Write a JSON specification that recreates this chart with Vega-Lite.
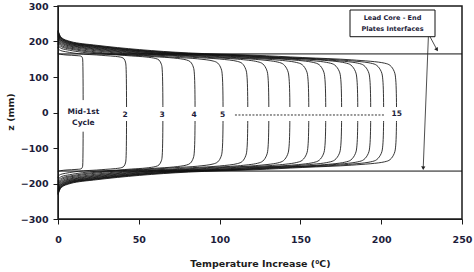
{
"$schema": "https://vega.github.io/schema/vega-lite/v6.json",
"width": 404, "height": 213,
"autosize": {"type": "none"},
"padding": {"left": 58, "top": 6, "right": 12, "bottom": 53},
"background": "white",
"config": {
 "view": {"stroke": "#1a1a1a", "strokeWidth": 1.5},
 "font": "DejaVu Sans",
 "axis": {"labelFont": "DejaVu Sans", "labelFontWeight": "bold", "labelFontSize": 9.5, "labelColor": "#1c1c3a",
  "titleFont": "DejaVu Sans", "titleFontWeight": "bold", "titleFontSize": 9.5, "titleColor": "#1c1c1c",
  "domainColor": "#1a1a1a", "tickColor": "#1a1a1a", "tickSize": 5, "grid": false, "labelOverlap": false, "labelFlush": false},
 "axisY": {"tickCount": 7}
},
"datasets": {"curves": [
{"c":1,"t":0,"z":168},{"c":1,"t":0.14,"z":166},{"c":1,"t":0.56,"z":164.9},{"c":1,"t":1.68,"z":163.9},{"c":1,"t":3.5,"z":162.7},{"c":1,"t":5.6,"z":161.8},{"c":1,"t":8.4,"z":161.2},{"c":1,"t":10.5,"z":160.5},{"c":1,"t":12.6,"z":159.9},{"c":1,"t":14,"z":159},{"c":1,"t":14.65,"z":157.5},{"c":1,"t":15.13,"z":153.5},{"c":1,"t":15.3,"z":148},
{"c":1,"t":15.3,"z":-148},{"c":1,"t":15.13,"z":-153.5},{"c":1,"t":14.65,"z":-157.5},{"c":1,"t":14,"z":-159},{"c":1,"t":12.6,"z":-159.9},{"c":1,"t":10.5,"z":-160.5},{"c":1,"t":8.4,"z":-161.2},{"c":1,"t":5.6,"z":-161.8},{"c":1,"t":3.5,"z":-162.7},{"c":1,"t":1.68,"z":-163.9},{"c":1,"t":0.56,"z":-164.9},{"c":1,"t":0.14,"z":-166},{"c":1,"t":0,"z":-168},
{"c":2,"t":0,"z":185},{"c":2,"t":0.4,"z":178.4},{"c":2,"t":1.58,"z":174.5},{"c":2,"t":4.74,"z":171.2},{"c":2,"t":9.88,"z":167.3},{"c":2,"t":15.8,"z":164.3},{"c":2,"t":23.7,"z":162.2},{"c":2,"t":29.6,"z":160.1},{"c":2,"t":35.6,"z":158},{"c":2,"t":39.5,"z":155},{"c":2,"t":40.8,"z":151.5},{"c":2,"t":41.75,"z":142},{"c":2,"t":42.1,"z":129},
{"c":2,"t":42.1,"z":-129},{"c":2,"t":41.75,"z":-142},{"c":2,"t":40.8,"z":-151.5},{"c":2,"t":39.5,"z":-155},{"c":2,"t":35.6,"z":-158},{"c":2,"t":29.6,"z":-160.1},{"c":2,"t":23.7,"z":-162.2},{"c":2,"t":15.8,"z":-164.3},{"c":2,"t":9.88,"z":-167.3},{"c":2,"t":4.74,"z":-171.2},{"c":2,"t":1.58,"z":-174.5},{"c":2,"t":0.4,"z":-178.4},{"c":2,"t":0,"z":-185},
{"c":3,"t":0,"z":195},{"c":3,"t":0.6,"z":185.5},{"c":3,"t":2.42,"z":180},{"c":3,"t":7.26,"z":175.2},{"c":3,"t":15.1,"z":169.6},{"c":3,"t":24.2,"z":165.3},{"c":3,"t":36.3,"z":162.3},{"c":3,"t":45.4,"z":159.3},{"c":3,"t":54.5,"z":156.3},{"c":3,"t":60.5,"z":152},{"c":3,"t":62.5,"z":147.7},{"c":3,"t":63.96,"z":136},{"c":3,"t":64.5,"z":120},
{"c":3,"t":64.5,"z":-120},{"c":3,"t":63.96,"z":-136},{"c":3,"t":62.5,"z":-147.7},{"c":3,"t":60.5,"z":-152},{"c":3,"t":54.5,"z":-156.3},{"c":3,"t":45.4,"z":-159.3},{"c":3,"t":36.3,"z":-162.3},{"c":3,"t":24.2,"z":-165.3},{"c":3,"t":15.1,"z":-169.6},{"c":3,"t":7.26,"z":-175.2},{"c":3,"t":2.42,"z":-180},{"c":3,"t":0.6,"z":-185.5},{"c":3,"t":0,"z":-195},
{"c":4,"t":0,"z":202},{"c":4,"t":0.8,"z":190.1},{"c":4,"t":3.18,"z":183.1},{"c":4,"t":9.54,"z":177.2},{"c":4,"t":19.9,"z":170.1},{"c":4,"t":31.8,"z":164.7},{"c":4,"t":47.7,"z":161},{"c":4,"t":59.6,"z":157.2},{"c":4,"t":71.6,"z":153.4},{"c":4,"t":79.5,"z":148},{"c":4,"t":81.95,"z":142.6},{"c":4,"t":83.74,"z":128},{"c":4,"t":84.4,"z":108},
{"c":4,"t":84.4,"z":-108},{"c":4,"t":83.74,"z":-128},{"c":4,"t":81.95,"z":-142.6},{"c":4,"t":79.5,"z":-148},{"c":4,"t":71.6,"z":-153.4},{"c":4,"t":59.6,"z":-157.2},{"c":4,"t":47.7,"z":-161},{"c":4,"t":31.8,"z":-164.7},{"c":4,"t":19.9,"z":-170.1},{"c":4,"t":9.54,"z":-177.2},{"c":4,"t":3.18,"z":-183.1},{"c":4,"t":0.8,"z":-190.1},{"c":4,"t":0,"z":-202},
{"c":5,"t":0,"z":207},{"c":5,"t":0.96,"z":193.4},{"c":5,"t":3.84,"z":185.3},{"c":5,"t":11.5,"z":178.5},{"c":5,"t":24,"z":170.4},{"c":5,"t":38.4,"z":164.2},{"c":5,"t":57.6,"z":159.9},{"c":5,"t":72,"z":155.5},{"c":5,"t":86.4,"z":151.2},{"c":5,"t":96,"z":145},{"c":5,"t":98.85,"z":139.2},{"c":5,"t":100.94,"z":123.5},{"c":5,"t":101.7,"z":102},
{"c":5,"t":101.7,"z":-102},{"c":5,"t":100.94,"z":-123.5},{"c":5,"t":98.85,"z":-139.2},{"c":5,"t":96,"z":-145},{"c":5,"t":86.4,"z":-151.2},{"c":5,"t":72,"z":-155.5},{"c":5,"t":57.6,"z":-159.9},{"c":5,"t":38.4,"z":-164.2},{"c":5,"t":24,"z":-170.4},{"c":5,"t":11.5,"z":-178.5},{"c":5,"t":3.84,"z":-185.3},{"c":5,"t":0.96,"z":-193.4},{"c":5,"t":0,"z":-207},
{"c":6,"t":0,"z":211},{"c":6,"t":1.11,"z":196.3},{"c":6,"t":4.44,"z":187.6},{"c":6,"t":13.3,"z":180.2},{"c":6,"t":27.8,"z":171.5},{"c":6,"t":44.4,"z":164.8},{"c":6,"t":66.6,"z":160.1},{"c":6,"t":83.3,"z":155.4},{"c":6,"t":99.9,"z":150.7},{"c":6,"t":111,"z":144},{"c":6,"t":114,"z":138},{"c":6,"t":116.2,"z":121.5},{"c":6,"t":117,"z":99},
{"c":6,"t":117,"z":-99},{"c":6,"t":116.2,"z":-121.5},{"c":6,"t":114,"z":-138},{"c":6,"t":111,"z":-144},{"c":6,"t":99.9,"z":-150.7},{"c":6,"t":83.3,"z":-155.4},{"c":6,"t":66.6,"z":-160.1},{"c":6,"t":44.4,"z":-164.8},{"c":6,"t":27.8,"z":-171.5},{"c":6,"t":13.3,"z":-180.2},{"c":6,"t":4.44,"z":-187.6},{"c":6,"t":1.11,"z":-196.3},{"c":6,"t":0,"z":-211},
{"c":7,"t":0,"z":215},{"c":7,"t":1.24,"z":199.2},{"c":7,"t":4.94,"z":189.8},{"c":7,"t":14.8,"z":181.9},{"c":7,"t":30.9,"z":172.5},{"c":7,"t":49.4,"z":165.3},{"c":7,"t":74.1,"z":160.3},{"c":7,"t":92.6,"z":155.2},{"c":7,"t":111.2,"z":150.2},{"c":7,"t":123.5,"z":143},{"c":7,"t":126.75,"z":136.8},{"c":7,"t":129.13,"z":120},{"c":7,"t":130,"z":97},
{"c":7,"t":130,"z":-97},{"c":7,"t":129.13,"z":-120},{"c":7,"t":126.75,"z":-136.8},{"c":7,"t":123.5,"z":-143},{"c":7,"t":111.2,"z":-150.2},{"c":7,"t":92.6,"z":-155.2},{"c":7,"t":74.1,"z":-160.3},{"c":7,"t":49.4,"z":-165.3},{"c":7,"t":30.9,"z":-172.5},{"c":7,"t":14.8,"z":-181.9},{"c":7,"t":4.94,"z":-189.8},{"c":7,"t":1.24,"z":-199.2},{"c":7,"t":0,"z":-215},
{"c":8,"t":0,"z":218},{"c":8,"t":1.36,"z":201.3},{"c":8,"t":5.44,"z":191.4},{"c":8,"t":16.3,"z":183},{"c":8,"t":34,"z":173.2},{"c":8,"t":54.4,"z":165.6},{"c":8,"t":81.6,"z":160.2},{"c":8,"t":102,"z":154.9},{"c":8,"t":122.4,"z":149.6},{"c":8,"t":136,"z":142},{"c":8,"t":139.5,"z":135.7},{"c":8,"t":142.06,"z":118.5},{"c":8,"t":143,"z":95},
{"c":8,"t":143,"z":-95},{"c":8,"t":142.06,"z":-118.5},{"c":8,"t":139.5,"z":-135.7},{"c":8,"t":136,"z":-142},{"c":8,"t":122.4,"z":-149.6},{"c":8,"t":102,"z":-154.9},{"c":8,"t":81.6,"z":-160.2},{"c":8,"t":54.4,"z":-165.6},{"c":8,"t":34,"z":-173.2},{"c":8,"t":16.3,"z":-183},{"c":8,"t":5.44,"z":-191.4},{"c":8,"t":1.36,"z":-201.3},{"c":8,"t":0,"z":-218},
{"c":9,"t":0,"z":221},{"c":9,"t":1.48,"z":203.4},{"c":9,"t":5.9,"z":193},{"c":9,"t":17.7,"z":184.2},{"c":9,"t":36.9,"z":173.8},{"c":9,"t":59,"z":165.8},{"c":9,"t":88.5,"z":160.2},{"c":9,"t":110.6,"z":154.6},{"c":9,"t":132.8,"z":149},{"c":9,"t":147.5,"z":141},{"c":9,"t":151.1,"z":134.7},{"c":9,"t":153.74,"z":117.5},{"c":9,"t":154.7,"z":94},
{"c":9,"t":154.7,"z":-94},{"c":9,"t":153.74,"z":-117.5},{"c":9,"t":151.1,"z":-134.7},{"c":9,"t":147.5,"z":-141},{"c":9,"t":132.8,"z":-149},{"c":9,"t":110.6,"z":-154.6},{"c":9,"t":88.5,"z":-160.2},{"c":9,"t":59,"z":-165.8},{"c":9,"t":36.9,"z":-173.8},{"c":9,"t":17.7,"z":-184.2},{"c":9,"t":5.9,"z":-193},{"c":9,"t":1.48,"z":-203.4},{"c":9,"t":0,"z":-221},
{"c":10,"t":0,"z":223},{"c":10,"t":1.58,"z":205},{"c":10,"t":6.32,"z":194.3},{"c":10,"t":19,"z":185.3},{"c":10,"t":39.5,"z":174.6},{"c":10,"t":63.2,"z":166.4},{"c":10,"t":94.8,"z":160.7},{"c":10,"t":118.5,"z":154.9},{"c":10,"t":142.2,"z":149.2},{"c":10,"t":158,"z":141},{"c":10,"t":161.6,"z":134.6},{"c":10,"t":164.24,"z":117},{"c":10,"t":165.2,"z":93},
{"c":10,"t":165.2,"z":-93},{"c":10,"t":164.24,"z":-117},{"c":10,"t":161.6,"z":-134.6},{"c":10,"t":158,"z":-141},{"c":10,"t":142.2,"z":-149.2},{"c":10,"t":118.5,"z":-154.9},{"c":10,"t":94.8,"z":-160.7},{"c":10,"t":63.2,"z":-166.4},{"c":10,"t":39.5,"z":-174.6},{"c":10,"t":19,"z":-185.3},{"c":10,"t":6.32,"z":-194.3},{"c":10,"t":1.58,"z":-205},{"c":10,"t":0,"z":-223},
{"c":11,"t":0,"z":225},{"c":11,"t":1.68,"z":206.3},{"c":11,"t":6.7,"z":195.3},{"c":11,"t":20.1,"z":185.9},{"c":11,"t":41.9,"z":174.9},{"c":11,"t":67,"z":166.4},{"c":11,"t":100.5,"z":160.4},{"c":11,"t":125.6,"z":154.5},{"c":11,"t":150.8,"z":148.5},{"c":11,"t":167.5,"z":140},{"c":11,"t":171.25,"z":133.7},{"c":11,"t":174,"z":116.5},{"c":11,"t":175,"z":93},
{"c":11,"t":175,"z":-93},{"c":11,"t":174,"z":-116.5},{"c":11,"t":171.25,"z":-133.7},{"c":11,"t":167.5,"z":-140},{"c":11,"t":150.8,"z":-148.5},{"c":11,"t":125.6,"z":-154.5},{"c":11,"t":100.5,"z":-160.4},{"c":11,"t":67,"z":-166.4},{"c":11,"t":41.9,"z":-174.9},{"c":11,"t":20.1,"z":-185.9},{"c":11,"t":6.7,"z":-195.3},{"c":11,"t":1.68,"z":-206.3},{"c":11,"t":0,"z":-225},
{"c":12,"t":0,"z":227},{"c":12,"t":1.78,"z":207.9},{"c":12,"t":7.1,"z":196.6},{"c":12,"t":21.3,"z":187},{"c":12,"t":44.4,"z":175.7},{"c":12,"t":71,"z":167},{"c":12,"t":106.5,"z":160.9},{"c":12,"t":133.1,"z":154.8},{"c":12,"t":159.8,"z":148.7},{"c":12,"t":177.5,"z":140},{"c":12,"t":181.25,"z":133.6},{"c":12,"t":184,"z":116},{"c":12,"t":185,"z":92},
{"c":12,"t":185,"z":-92},{"c":12,"t":184,"z":-116},{"c":12,"t":181.25,"z":-133.6},{"c":12,"t":177.5,"z":-140},{"c":12,"t":159.8,"z":-148.7},{"c":12,"t":133.1,"z":-154.8},{"c":12,"t":106.5,"z":-160.9},{"c":12,"t":71,"z":-167},{"c":12,"t":44.4,"z":-175.7},{"c":12,"t":21.3,"z":-187},{"c":12,"t":7.1,"z":-196.6},{"c":12,"t":1.78,"z":-207.9},{"c":12,"t":0,"z":-227},
{"c":13,"t":0,"z":229},{"c":13,"t":1.86,"z":209.2},{"c":13,"t":7.42,"z":197.5},{"c":13,"t":22.3,"z":187.6},{"c":13,"t":46.4,"z":175.9},{"c":13,"t":74.2,"z":166.9},{"c":13,"t":111.3,"z":160.6},{"c":13,"t":139.1,"z":154.3},{"c":13,"t":167,"z":148},{"c":13,"t":185.5,"z":139},{"c":13,"t":189.25,"z":132.7},{"c":13,"t":192,"z":115.5},{"c":13,"t":193,"z":92},
{"c":13,"t":193,"z":-92},{"c":13,"t":192,"z":-115.5},{"c":13,"t":189.25,"z":-132.7},{"c":13,"t":185.5,"z":-139},{"c":13,"t":167,"z":-148},{"c":13,"t":139.1,"z":-154.3},{"c":13,"t":111.3,"z":-160.6},{"c":13,"t":74.2,"z":-166.9},{"c":13,"t":46.4,"z":-175.9},{"c":13,"t":22.3,"z":-187.6},{"c":13,"t":7.42,"z":-197.5},{"c":13,"t":1.86,"z":-209.2},{"c":13,"t":0,"z":-229},
{"c":14,"t":0,"z":230},{"c":14,"t":1.94,"z":210},{"c":14,"t":7.74,"z":198.2},{"c":14,"t":23.2,"z":188.1},{"c":14,"t":48.4,"z":176.3},{"c":14,"t":77.4,"z":167.2},{"c":14,"t":116.1,"z":160.8},{"c":14,"t":145.1,"z":154.5},{"c":14,"t":174.2,"z":148.1},{"c":14,"t":193.5,"z":139},{"c":14,"t":197.25,"z":132.7},{"c":14,"t":200,"z":115.5},{"c":14,"t":201,"z":92},
{"c":14,"t":201,"z":-92},{"c":14,"t":200,"z":-115.5},{"c":14,"t":197.25,"z":-132.7},{"c":14,"t":193.5,"z":-139},{"c":14,"t":174.2,"z":-148.1},{"c":14,"t":145.1,"z":-154.5},{"c":14,"t":116.1,"z":-160.8},{"c":14,"t":77.4,"z":-167.2},{"c":14,"t":48.4,"z":-176.3},{"c":14,"t":23.2,"z":-188.1},{"c":14,"t":7.74,"z":-198.2},{"c":14,"t":1.94,"z":-210},{"c":14,"t":0,"z":-230},
{"c":15,"t":0,"z":232},{"c":15,"t":2.02,"z":211.5},{"c":15,"t":8.08,"z":199.5},{"c":15,"t":24.2,"z":189.2},{"c":15,"t":50.5,"z":177.1},{"c":15,"t":80.8,"z":167.8},{"c":15,"t":121.2,"z":161.3},{"c":15,"t":151.5,"z":154.8},{"c":15,"t":181.8,"z":148.3},{"c":15,"t":202,"z":139},{"c":15,"t":205.5,"z":132.7},{"c":15,"t":208.06,"z":115.5},{"c":15,"t":209,"z":92},
{"c":15,"t":209,"z":-92},{"c":15,"t":208.06,"z":-115.5},{"c":15,"t":205.5,"z":-132.7},{"c":15,"t":202,"z":-139},{"c":15,"t":181.8,"z":-148.3},{"c":15,"t":151.5,"z":-154.8},{"c":15,"t":121.2,"z":-161.3},{"c":15,"t":80.8,"z":-167.8},{"c":15,"t":50.5,"z":-177.1},{"c":15,"t":24.2,"z":-189.2},{"c":15,"t":8.08,"z":-199.5},{"c":15,"t":2.02,"z":-211.5},{"c":15,"t":0,"z":-232}
]},
"encoding": {
 "x": {"field": "t", "type": "quantitative", "scale": {"domain": [0, 250], "nice": false},
   "axis": {"title": "Temperature Increase (⁰C)", "values": [0, 50, 100, 150, 200, 250], "labelPadding": 10, "titleY": 47, "titleBaseline": "alphabetic"}},
 "y": {"field": "z", "type": "quantitative", "scale": {"domain": [-300, 300], "nice": false},
   "axis": {"title": "z (mm)", "values": [-300, -200, -100, 0, 100, 200, 300], "tickCount": 7, "labelPadding": 5, "titleX": -44.5, "titleY": 105.5, "titleAngle": -90, "titleBaseline": "alphabetic", "titleAlign": "center"}}
},
"layer": [
 {"data": {"name": "curves"},
  "mark": {"type": "line", "interpolate": "catmull-rom", "strokeWidth": 0.85, "color": "#111111"},
  "encoding": {"detail": {"field": "c", "type": "nominal"}, "order": {"value": null}}},
 {"data": {"values": [{"t": 0, "t2": 250, "z": 165}, {"t": 0, "t2": 250, "z": -165}]},
  "mark": {"type": "rule", "color": "#111111", "strokeWidth": 1},
  "encoding": {"x2": {"field": "t2"}}},
 {"data": {"values": [{"t": 7.4, "t2": 24.1, "z": 35, "z2": -54}, {"t": 30, "t2": 213, "z": 15.5, "z2": -24}]},
  "mark": {"type": "rect", "color": "white"},
  "encoding": {"x2": {"field": "t2"}, "y2": {"field": "z2"}}},
 {"data": {"values": [{"t": 109.5, "t2": 202, "z": -7}]},
  "mark": {"type": "rule", "color": "#333333", "strokeWidth": 1, "strokeDash": [2, 1.5]},
  "encoding": {"x2": {"field": "t2"}}},
 {"data": {"values": [{"t": 15.7, "z": 2, "s": "Mid-1st"}, {"t": 15.7, "z": -28.7, "s": "Cycle"}, {"t": 41.5, "z": -6, "s": "2"}, {"t": 64.5, "z": -6, "s": "3"}, {"t": 84.2, "z": -6, "s": "4"}, {"t": 101.9, "z": -6, "s": "5"}, {"t": 209.6, "z": -5, "s": "15"}]},
  "mark": {"type": "text", "font": "DejaVu Sans", "fontWeight": "bold", "fontSize": 7.5, "color": "#1c1c3a", "align": "center", "baseline": "middle"},
  "encoding": {"text": {"field": "s"}}},
 {"data": {"values": [{"t": 180.7, "t2": 233.3, "z": 288.7, "z2": 213.5}]},
  "mark": {"type": "rect", "fill": "white", "stroke": "#111111", "strokeWidth": 1},
  "encoding": {"x2": {"field": "t2"}, "y2": {"field": "z2"}}},
 {"data": {"values": [{"t": 207, "z": 266, "s": "Lead Core - End"}, {"t": 207, "z": 236, "s": "Plates Interfaces"}]},
  "mark": {"type": "text", "font": "DejaVu Sans", "fontWeight": "bold", "fontSize": 6.5, "color": "#1c1c3a", "align": "center", "baseline": "middle"},
  "encoding": {"text": {"field": "s"}}},
 {"data": {"values": [{"t": 229.2, "z": 213.5, "t2": 226, "z2": -157}, {"t": 230.2, "z": 213.5, "t2": 234.5, "z2": 177}]},
  "mark": {"type": "rule", "color": "#222222", "strokeWidth": 0.8},
  "encoding": {"x2": {"field": "t2"}, "y2": {"field": "z2"}}},
 {"data": {"values": [{"t": 226, "z": -157}]},
  "mark": {"type": "point", "shape": "triangle-down", "filled": true, "size": 18, "color": "#222222", "angle": 1.4, "opacity": 1}},
 {"data": {"values": [{"t": 234.5, "z": 177}]},
  "mark": {"type": "point", "shape": "triangle-down", "filled": true, "size": 18, "color": "#222222", "angle": -31, "opacity": 1}}
]
}
